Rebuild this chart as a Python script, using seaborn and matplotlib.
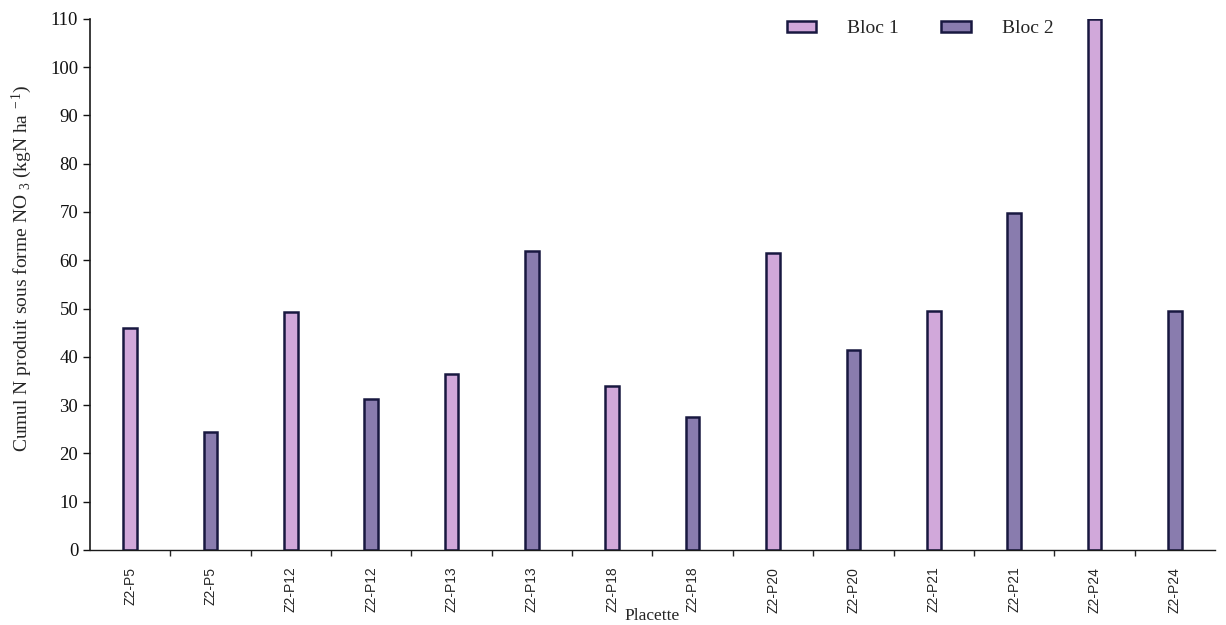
import matplotlib
matplotlib.use("Agg")
import matplotlib.pyplot as plt
import seaborn as sns
import pandas as pd
import numpy as np

placettes = ["Z2-P5", "Z2-P5", "Z2-P12", "Z2-P12", "Z2-P13", "Z2-P13", "Z2-P18",
             "Z2-P18", "Z2-P20", "Z2-P20", "Z2-P21", "Z2-P21", "Z2-P24", "Z2-P24"]
blocs = ["Bloc 1", "Bloc 2"] * 7
cumul_no3 = [46.0, 24.4, 49.2, 31.2, 36.4, 62.0, 34.0, 27.6, 61.6, 41.5, 49.4, 69.8, 110.0, 49.5]

df = pd.DataFrame({"pos": np.arange(len(placettes)), "placette": placettes,
                   "bloc": blocs, "cumul": cumul_no3})

sns.set_style("white")
plt.rcParams["font.family"] = ["Liberation Serif", "DejaVu Serif"]
plt.rcParams["mathtext.fontset"] = "custom"
plt.rcParams["mathtext.rm"] = "Liberation Serif"
plt.rcParams["mathtext.it"] = "Liberation Serif:italic"

palette = {"Bloc 1": "#d6a0e2", "Bloc 2": "#8574b6"}

fig = plt.figure(figsize=(12.26, 6.25), dpi=100)
ax = fig.add_axes([0.0734, 0.12, 0.9176, 0.85])

sns.barplot(data=df, x="pos", y="cumul", hue="bloc", palette=palette, dodge=False,
            width=0.17, edgecolor="#181840", linewidth=1.8, ax=ax, legend=True)

ax.set_ylim(0, 110)
ax.set_xlim(-0.5, len(placettes) - 0.5)
ax.set_yticks(range(0, 111, 10))
ax.tick_params(axis="y", labelsize=13.5, direction="out", length=5, width=1, left=True, colors="#111111")
ax.set_xticks(df["pos"])
ax.set_xticklabels(placettes, rotation=90, fontsize=10, family=["Liberation Sans", "DejaVu Sans"])
ax.tick_params(axis="x", which="major", length=0, pad=12)
ax.set_xticks(np.arange(0.5, len(placettes) - 1, 1), minor=True)
ax.tick_params(axis="x", which="minor", direction="out", length=4, width=1, bottom=True)

for side in ["top", "right"]:
    ax.spines[side].set_visible(False)
ax.spines["left"].set_color("#1a1a1a")
ax.spines["bottom"].set_color("#1a1a1a")
ax.spines["left"].set_linewidth(1.2)
ax.spines["bottom"].set_linewidth(1.0)

ax.set_ylabel(r"Cumul N produit sous forme NO$\ _{3}$ (kgN ha$^{\ -1}$)", fontsize=14)
ax.yaxis.set_label_coords(-0.05, 0.53)
ax.set_xlabel("Placette", fontsize=12.5)
ax.xaxis.set_label_coords(0.5, -0.11)

leg = ax.legend(loc="upper right", bbox_to_anchor=(0.872, 1.03), ncol=2, frameon=False,
                fontsize=14, handlelength=1.5, handleheight=0.5, columnspacing=2.2,
                handletextpad=1.6)

fig.savefig("out.png", dpi=100)
